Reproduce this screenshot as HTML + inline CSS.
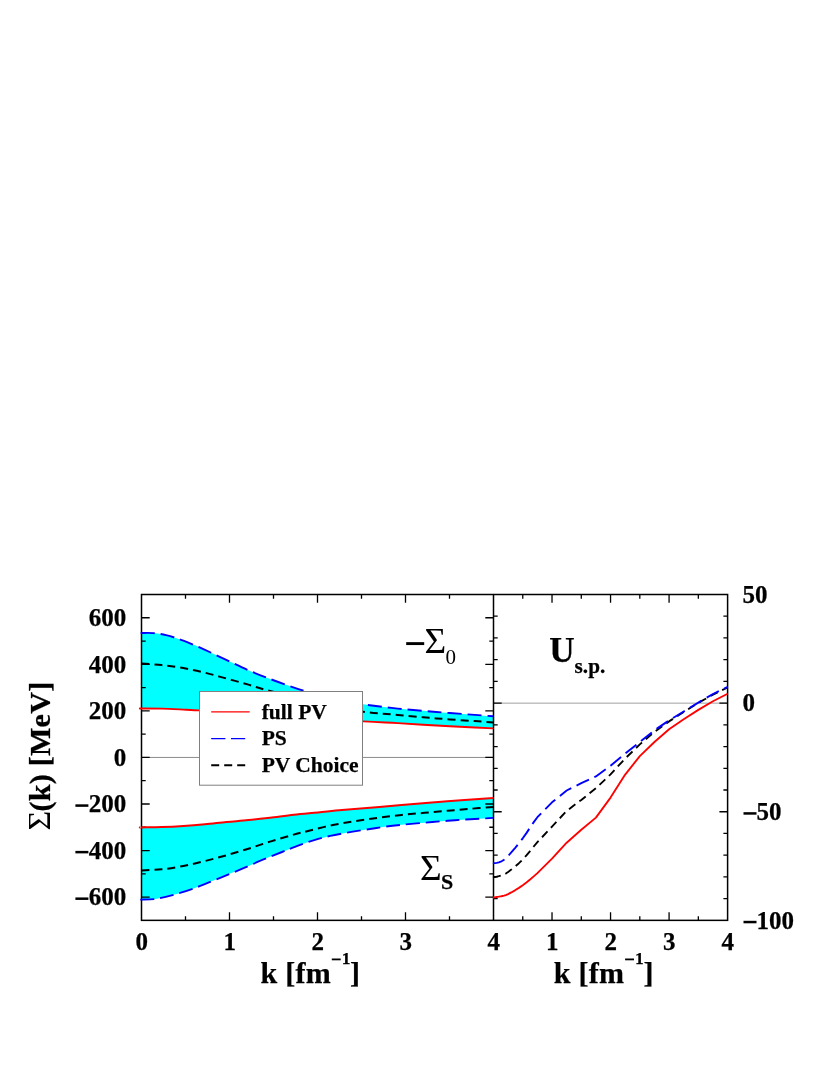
<!DOCTYPE html>
<html><head><meta charset="utf-8"><title>fig</title>
<style>
html,body{margin:0;padding:0;background:#fff;}
body{width:830px;height:1075px;overflow:hidden;}
svg{display:block;will-change:transform;}
text{font-family:"Liberation Serif",serif;font-weight:bold;fill:#000;stroke:#000;stroke-width:0.25px;}
.n{font-weight:normal;stroke-width:0;}
</style></head><body>
<svg width="830" height="1075" viewBox="0 0 830 1075">
<rect width="830" height="1075" fill="#fff"/>

<path fill="#00ffff" d="M141.50 633.00C143.42 633.02 148.92 632.73 153.00 633.10C157.08 633.47 160.93 633.95 166.00 635.20C171.07 636.45 176.90 638.15 183.40 640.60C189.90 643.05 197.78 646.65 205.00 649.90C212.22 653.15 219.47 656.70 226.70 660.10C233.93 663.50 241.17 667.15 248.40 670.30C255.63 673.45 262.87 676.25 270.10 679.00C277.33 681.75 286.02 684.78 291.80 686.80C297.58 688.82 300.10 689.65 304.80 691.10C309.50 692.55 314.13 694.02 320.00 695.50C325.87 696.98 332.82 698.53 340.00 700.00C347.18 701.47 353.47 702.87 363.10 704.30C372.73 705.73 385.58 707.32 397.80 708.60C410.02 709.88 423.55 710.95 436.40 712.00C449.25 713.05 465.38 714.18 474.90 714.90C484.42 715.62 490.40 716.07 493.50 716.30L493.50 728.40C490.40 728.25 484.42 727.98 474.90 727.50C465.38 727.02 449.25 726.22 436.40 725.50C423.55 724.78 410.02 723.90 397.80 723.20C385.58 722.50 379.40 722.33 363.10 721.30C346.80 720.27 318.85 718.30 300.00 717.00C281.15 715.70 266.90 714.60 250.00 713.50C233.10 712.40 209.70 711.05 198.60 710.40C187.50 709.75 189.55 709.88 183.40 709.60C177.25 709.32 168.68 708.88 161.70 708.70C154.72 708.52 144.87 708.53 141.50 708.50Z"/>
<path fill="#00ffff" d="M141.50 827.40C144.87 827.33 154.72 827.25 161.70 827.00C168.68 826.75 176.18 826.37 183.40 825.90C190.62 825.43 197.78 824.85 205.00 824.20C212.22 823.55 219.47 822.68 226.70 822.00C233.93 821.32 241.18 820.82 248.40 820.10C255.62 819.38 262.40 818.58 270.00 817.70C277.60 816.82 286.00 815.67 294.00 814.80C302.00 813.93 310.00 813.28 318.00 812.50C326.00 811.72 333.33 810.88 342.00 810.10C350.67 809.32 360.07 808.63 370.00 807.80C379.93 806.97 388.70 806.20 401.60 805.10C414.50 804.00 432.08 802.40 447.40 801.20C462.72 800.00 485.82 798.45 493.50 797.90L493.50 817.90C489.63 818.12 477.98 818.72 470.30 819.20C462.62 819.68 455.03 820.22 447.40 820.80C439.77 821.38 432.13 822.03 424.50 822.70C416.87 823.37 408.18 824.13 401.60 824.80C395.02 825.47 390.27 826.00 385.00 826.70C379.73 827.40 375.12 828.22 370.00 829.00C364.88 829.78 358.92 830.65 354.30 831.40C349.68 832.15 346.32 832.75 342.30 833.50C338.28 834.25 334.22 835.00 330.20 835.90C326.18 836.80 322.22 837.77 318.20 838.90C314.18 840.03 310.12 841.32 306.10 842.70C302.08 844.08 298.12 845.65 294.10 847.20C290.08 848.75 287.00 850.00 282.00 852.00C277.00 854.00 271.10 856.27 264.10 859.20C257.10 862.13 248.03 866.22 240.00 869.60C231.97 872.98 223.53 876.40 215.90 879.50C208.27 882.60 201.43 885.60 194.20 888.20C186.97 890.80 179.00 893.30 172.50 895.10C166.00 896.90 160.37 898.25 155.20 899.00C150.03 899.75 143.78 899.50 141.50 899.60Z"/>
<line x1="141.5" x2="493.5" y1="757.45" y2="757.45" stroke="#8c8c8c" stroke-width="1"/>
<line x1="493.5" x2="727.6" y1="703.15" y2="703.15" stroke="#a0a0a0" stroke-width="1"/>
<path d="M141.50 897.08H149.70M485.30 897.08H493.50M141.50 873.80H145.70M489.30 873.80H493.50M141.50 850.53H149.70M485.30 850.53H493.50M141.50 827.25H145.70M489.30 827.25H493.50M141.50 803.98H149.70M485.30 803.98H493.50M141.50 780.70H145.70M489.30 780.70H493.50M141.50 757.42H149.70M485.30 757.42H493.50M141.50 734.15H145.70M489.30 734.15H493.50M141.50 710.88H149.70M485.30 710.88H493.50M141.50 687.60H145.70M489.30 687.60H493.50M141.50 664.33H149.70M485.30 664.33H493.50M141.50 641.05H145.70M489.30 641.05H493.50M141.50 617.77H149.70M485.30 617.77H493.50M185.50 594.50V598.70M185.50 916.15V920.35M229.50 594.50V602.70M229.50 912.15V920.35M273.50 594.50V598.70M273.50 916.15V920.35M317.50 594.50V602.70M317.50 912.15V920.35M361.50 594.50V598.70M361.50 916.15V920.35M405.50 594.50V602.70M405.50 912.15V920.35M449.50 594.50V598.70M449.50 916.15V920.35M493.50 898.63H497.70M723.40 898.63H727.60M493.50 876.90H497.70M723.40 876.90H727.60M493.50 855.18H497.70M723.40 855.18H727.60M493.50 833.46H497.70M723.40 833.46H727.60M493.50 811.73H501.70M719.40 811.73H727.60M493.50 790.01H497.70M723.40 790.01H727.60M493.50 768.29H497.70M723.40 768.29H727.60M493.50 746.56H497.70M723.40 746.56H727.60M493.50 724.84H497.70M723.40 724.84H727.60M493.50 703.12H501.70M719.40 703.12H727.60M493.50 681.39H497.70M723.40 681.39H727.60M493.50 659.67H497.70M723.40 659.67H727.60M493.50 637.95H497.70M723.40 637.95H727.60M493.50 616.22H497.70M723.40 616.22H727.60M522.76 594.50V598.70M522.76 916.15V920.35M552.02 594.50V602.70M552.02 912.15V920.35M581.29 594.50V598.70M581.29 916.15V920.35M610.55 594.50V602.70M610.55 912.15V920.35M639.81 594.50V598.70M639.81 916.15V920.35M669.08 594.50V602.70M669.08 912.15V920.35M698.34 594.50V598.70M698.34 916.15V920.35" stroke="#000" stroke-width="1.3" fill="none"/>
<rect x="141.5" y="594.5" width="586.10" height="325.85" fill="none" stroke="#000" stroke-width="1.5"/>
<line x1="493.5" x2="493.5" y1="594.5" y2="920.35" stroke="#000" stroke-width="1.5"/>
<path fill="none" stroke="#ff0000" stroke-width="1.85" stroke-linejoin="round" d="M140.90 708.50C141.00 708.50 138.03 708.47 141.50 708.50C144.97 708.53 154.72 708.52 161.70 708.70C168.68 708.88 177.25 709.32 183.40 709.60C189.55 709.88 187.50 709.75 198.60 710.40C209.70 711.05 233.10 712.40 250.00 713.50C266.90 714.60 281.15 715.70 300.00 717.00C318.85 718.30 346.80 720.27 363.10 721.30C379.40 722.33 385.58 722.50 397.80 723.20C410.02 723.90 423.55 724.78 436.40 725.50C449.25 726.22 465.38 727.02 474.90 727.50C484.42 727.98 490.40 728.25 493.50 728.40"/>
<path fill="none" stroke="#ff0000" stroke-width="2.0" stroke-linejoin="round" d="M140.90 827.40C141.00 827.40 138.03 827.47 141.50 827.40C144.97 827.33 154.72 827.25 161.70 827.00C168.68 826.75 176.18 826.37 183.40 825.90C190.62 825.43 197.78 824.85 205.00 824.20C212.22 823.55 219.47 822.68 226.70 822.00C233.93 821.32 241.18 820.82 248.40 820.10C255.62 819.38 262.40 818.58 270.00 817.70C277.60 816.82 286.00 815.67 294.00 814.80C302.00 813.93 310.00 813.28 318.00 812.50C326.00 811.72 333.33 810.88 342.00 810.10C350.67 809.32 360.07 808.63 370.00 807.80C379.93 806.97 388.70 806.20 401.60 805.10C414.50 804.00 432.08 802.40 447.40 801.20C462.72 800.00 485.82 798.45 493.50 797.90"/>
<path stroke-dashoffset="-0.7" fill="none" stroke="#0000ff" stroke-width="1.9" stroke-linejoin="round" stroke-dasharray="14,6" d="M140.90 633.00C141.00 633.00 139.48 632.98 141.50 633.00C143.52 633.02 148.92 632.73 153.00 633.10C157.08 633.47 160.93 633.95 166.00 635.20C171.07 636.45 176.90 638.15 183.40 640.60C189.90 643.05 197.78 646.65 205.00 649.90C212.22 653.15 219.47 656.70 226.70 660.10C233.93 663.50 241.17 667.15 248.40 670.30C255.63 673.45 262.87 676.25 270.10 679.00C277.33 681.75 286.02 684.78 291.80 686.80C297.58 688.82 300.10 689.65 304.80 691.10C309.50 692.55 314.13 694.02 320.00 695.50C325.87 696.98 332.82 698.53 340.00 700.00C347.18 701.47 353.47 702.87 363.10 704.30C372.73 705.73 385.58 707.32 397.80 708.60C410.02 709.88 423.55 710.95 436.40 712.00C449.25 713.05 465.38 714.18 474.90 714.90C484.42 715.62 490.40 716.07 493.50 716.30"/>
<path stroke-dashoffset="-0.6" fill="none" stroke="#0000ff" stroke-width="1.9" stroke-linejoin="round" stroke-dasharray="13.9,5.95" d="M140.90 899.60C141.00 899.60 139.12 899.70 141.50 899.60C143.88 899.50 150.03 899.75 155.20 899.00C160.37 898.25 166.00 896.90 172.50 895.10C179.00 893.30 186.97 890.80 194.20 888.20C201.43 885.60 208.27 882.60 215.90 879.50C223.53 876.40 231.97 872.98 240.00 869.60C248.03 866.22 257.10 862.13 264.10 859.20C271.10 856.27 277.00 854.00 282.00 852.00C287.00 850.00 290.08 848.75 294.10 847.20C298.12 845.65 302.08 844.08 306.10 842.70C310.12 841.32 314.18 840.03 318.20 838.90C322.22 837.77 326.18 836.80 330.20 835.90C334.22 835.00 338.28 834.25 342.30 833.50C346.32 832.75 349.68 832.15 354.30 831.40C358.92 830.65 364.88 829.78 370.00 829.00C375.12 828.22 379.73 827.40 385.00 826.70C390.27 826.00 395.02 825.47 401.60 824.80C408.18 824.13 416.87 823.37 424.50 822.70C432.13 822.03 439.77 821.38 447.40 820.80C455.03 820.22 462.62 819.68 470.30 819.20C477.98 818.72 489.63 818.12 493.50 817.90"/>
<path fill="none" stroke="#000" stroke-width="2" stroke-linejoin="round" stroke-dasharray="8,5" d="M141.50 663.40C144.87 663.68 154.72 664.32 161.70 665.10C168.68 665.88 176.18 666.83 183.40 668.10C190.62 669.37 197.78 670.95 205.00 672.70C212.22 674.45 219.47 676.62 226.70 678.60C233.93 680.58 241.52 682.62 248.40 684.60C255.28 686.58 259.40 688.18 268.00 690.50C276.60 692.82 289.67 696.00 300.00 698.50C310.33 701.00 319.48 703.30 330.00 705.50C340.52 707.70 351.80 710.13 363.10 711.70C374.40 713.27 385.58 713.78 397.80 714.90C410.02 716.02 423.55 717.37 436.40 718.40C449.25 719.43 465.38 720.42 474.90 721.10C484.42 721.78 490.40 722.27 493.50 722.50"/>
<path fill="none" stroke="#000" stroke-width="2" stroke-linejoin="round" stroke-dasharray="8,5" d="M141.50 870.40C144.87 870.22 154.72 870.03 161.70 869.30C168.68 868.57 176.18 867.38 183.40 866.00C190.62 864.62 197.78 862.80 205.00 861.00C212.22 859.20 219.47 857.25 226.70 855.20C233.93 853.15 241.18 850.96 248.40 848.70C255.62 846.44 262.77 843.91 270.00 841.65C277.23 839.39 285.13 837.01 291.80 835.15C298.47 833.29 303.15 832.19 310.00 830.50C316.85 828.81 325.27 826.58 332.90 825.00C340.53 823.42 348.17 822.22 355.80 821.00C363.43 819.78 371.07 818.70 378.70 817.70C386.33 816.70 393.97 815.82 401.60 815.00C409.23 814.18 416.87 813.50 424.50 812.80C432.13 812.10 439.77 811.47 447.40 810.80C455.03 810.13 462.62 809.43 470.30 808.80C477.98 808.17 489.63 807.30 493.50 807.00"/>
<polyline fill="none" stroke="#ff0000" stroke-width="1.85" stroke-linejoin="round" points="492.90,897.50 493.50,897.50 494.81,897.31 496.70,897.04 498.82,896.70 500.82,896.30 502.47,895.97 504.02,895.67 505.79,895.14 508.13,894.10 511.27,892.44 514.99,890.33 518.93,887.89 522.76,885.30 526.42,882.54 530.08,879.55 533.74,876.38 537.39,873.10 552.02,858.70 566.66,842.70 581.29,829.70 595.92,817.60 610.55,797.60 625.18,774.60 639.81,756.10 654.44,742.00 669.08,729.20 683.71,719.30 698.34,709.90 712.97,701.30 727.60,693.80"/>
<polyline fill="none" stroke="#000" stroke-width="1.9" stroke-linejoin="round" stroke-dasharray="8,5" points="492.90,877.20 493.50,877.20 494.81,876.96 496.70,876.63 498.82,876.18 500.82,875.60 502.47,875.05 504.02,874.48 505.79,873.57 508.13,872.00 511.27,869.61 514.99,866.61 518.93,863.17 522.76,859.50 526.42,855.47 530.08,851.04 533.74,846.52 537.39,842.20 552.02,826.60 566.66,810.90 581.29,799.90 595.92,788.20 610.55,774.40 625.18,758.50 639.81,744.40 654.44,731.90 669.08,721.40 683.71,712.00 698.34,702.90 712.97,694.60 727.60,687.50"/>
<polyline stroke-dashoffset="1.4" fill="none" stroke="#0000ff" stroke-width="1.9" stroke-linejoin="round" stroke-dasharray="13.8,5.9" points="492.90,863.40 493.50,863.40 494.81,863.17 496.70,862.86 498.82,862.37 500.82,861.60 502.47,860.73 504.02,859.74 505.79,858.25 508.13,855.90 511.27,852.42 514.99,848.06 518.93,843.22 522.76,838.30 526.42,833.13 530.08,827.58 533.74,822.12 537.39,817.20 552.02,802.30 566.66,790.50 581.29,783.20 595.92,776.40 610.55,765.80 625.18,753.50 639.81,742.00 654.44,730.30 669.08,720.40 683.71,711.50 698.34,702.60 712.97,694.00 727.60,686.90"/>
<rect x="199.5" y="691.5" width="163" height="93.7" fill="#fff" stroke="#808080" stroke-width="1"/>
<line x1="211.2" x2="249.7" y1="711.9" y2="711.9" stroke="#ff0000" stroke-width="1.3"/>
<line x1="211.2" x2="245.2" y1="738.6" y2="738.6" stroke="#0000ff" stroke-width="1.3" stroke-dasharray="14.2,5.6"/>
<line x1="211.2" x2="245.3" y1="765.3" y2="765.3" stroke="#000" stroke-width="2" stroke-dasharray="8,5"/>
<text x="261.7" y="718.9" font-size="21.5">full PV</text>
<text x="261.7" y="745.4" font-size="21.5">PS</text>
<text x="261.7" y="772.1" font-size="21.5">PV Choice</text>
<text x="126.3" y="905.3" font-size="25" text-anchor="end">600</text>
<rect x="75.40" y="897.43" width="13.00" height="2.50" fill="#000"/>
<text x="126.3" y="858.7" font-size="25" text-anchor="end">400</text>
<rect x="75.40" y="850.88" width="13.00" height="2.50" fill="#000"/>
<text x="126.3" y="812.2" font-size="25" text-anchor="end">200</text>
<rect x="75.40" y="804.33" width="13.00" height="2.50" fill="#000"/>
<text x="126.3" y="765.6" font-size="25" text-anchor="end">0</text>
<text x="126.3" y="719.1" font-size="25" text-anchor="end">200</text>
<text x="126.3" y="672.5" font-size="25" text-anchor="end">400</text>
<text x="126.3" y="626.0" font-size="25" text-anchor="end">600</text>
<text x="742.6" y="602.8" font-size="25">50</text>
<text x="742.6" y="711.4" font-size="25">0</text>
<rect x="743.50" y="812.18" width="13.00" height="2.50" fill="#000"/>
<text x="756.6" y="820.0" font-size="25">50</text>
<rect x="743.50" y="920.80" width="13.00" height="2.50" fill="#000"/>
<text x="756.6" y="928.6" font-size="25">100</text>
<text x="141.7" y="949.6" font-size="25" text-anchor="middle">0</text>
<text x="229.7" y="949.6" font-size="25" text-anchor="middle">1</text>
<text x="317.7" y="949.6" font-size="25" text-anchor="middle">2</text>
<text x="405.7" y="949.6" font-size="25" text-anchor="middle">3</text>
<text x="493.7" y="949.6" font-size="25" text-anchor="middle">4</text>
<text x="552.2" y="949.6" font-size="25" text-anchor="middle">1</text>
<text x="610.8" y="949.6" font-size="25" text-anchor="middle">2</text>
<text x="669.3" y="949.6" font-size="25" text-anchor="middle">3</text>
<text x="727.8" y="949.6" font-size="25" text-anchor="middle">4</text>
<text x="260.5" y="982.6" font-size="30" letter-spacing="0.25">k [fm</text>
<rect x="331.80" y="958.50" width="8.90" height="1.80" fill="#000"/>
<text x="341.7" y="964.2" font-size="17.5">1</text>
<text x="350.1" y="982.6" font-size="30">]</text>
<text x="553.8" y="982.6" font-size="30" letter-spacing="0.25">k [fm</text>
<rect x="625.10" y="958.50" width="8.90" height="1.80" fill="#000"/>
<text x="635.0" y="964.2" font-size="17.5">1</text>
<text x="643.4" y="982.6" font-size="30">]</text>
<g transform="translate(49.9,830.55) rotate(-90)">
<text class="n" transform="translate(0,0) scale(1.13,1.06)" font-size="30">Σ</text>
<text x="18.95" y="0" font-size="30.2" letter-spacing="0.2">(k) [MeV]</text>
</g>
<rect x="406.20" y="642.15" width="18.00" height="2.90" fill="#000"/>
<text class="n" transform="translate(424.6,652.6) scale(1.13,1.06)" font-size="33">Σ</text>
<text class="n" x="445.6" y="663.5" font-size="21">0</text>
<text class="n" transform="translate(420.0,879.5) scale(1.13,1.06)" font-size="33">Σ</text>
<text x="441.0" y="889.4" font-size="22">S</text>
<text x="549.3" y="662.3" font-size="35.2">U</text>
<text x="574.6" y="672.7" font-size="21.2">s.p.</text>
</svg></body></html>
